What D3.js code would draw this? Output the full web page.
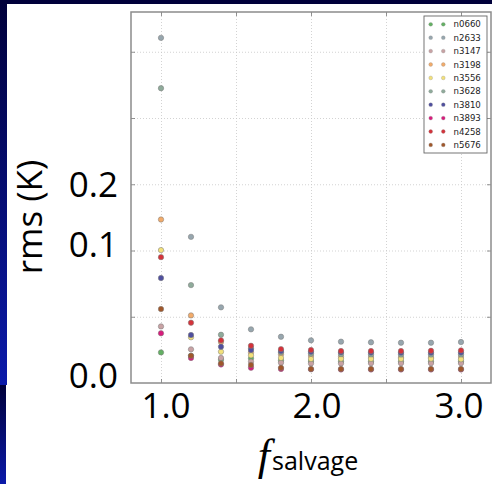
<!DOCTYPE html>
<html>
<head>
<meta charset="utf-8">
<script src="https://cdn.jsdelivr.net/npm/d3@7"></script>
<style>
  html, body { margin: 0; padding: 0; background: #fff; }
  svg { display: block; }
</style>
</head>
<body>
<svg id="chart" width="492" height="484"></svg>
<script>
// f_salvage values sampled for every field
const fSalvage = [1.0, 1.2, 1.4, 1.6, 1.8, 2.0, 2.2, 2.4, 2.6, 2.8, 3.0];

// Series names in legend order, with their marker colours
const seriesNames  = ["n0660", "n2633", "n3147", "n3198", "n3556", "n3628", "n3810", "n3893", "n4258", "n5676"];
const seriesColors = ["#63b063", "#97a6ae", "#c8a2a4", "#f2ab6a", "#f2e07a", "#8fab9b", "#4f4f9f", "#d81b7c", "#d5323a", "#a0572a"];

// rms (K) per series, one value per f_salvage
const n0660 = [0.0231, 0.0205, 0.0175, 0.0186, 0.0170, 0.0165, 0.0163, 0.0162, 0.0162, 0.0162, 0.0162];
const n2633 = [0.2605, 0.1103, 0.0571, 0.0405, 0.0349, 0.0322, 0.0312, 0.0307, 0.0304, 0.0304, 0.0309];
const n3147 = [0.0427, 0.0254, 0.0189, 0.0161, 0.0153, 0.0148, 0.0148, 0.0150, 0.0150, 0.0150, 0.0150];
const n3198 = [0.1234, 0.0510, 0.0310, 0.0230, 0.0216, 0.0204, 0.0198, 0.0196, 0.0195, 0.0195, 0.0196];
const n3556 = [0.1003, 0.0345, 0.0236, 0.0209, 0.0189, 0.0181, 0.0183, 0.0182, 0.0182, 0.0183, 0.0179];
const n3628 = [0.2225, 0.0739, 0.0364, 0.0262, 0.0232, 0.0222, 0.0218, 0.0216, 0.0215, 0.0215, 0.0216];
const n3810 = [0.0792, 0.0362, 0.0274, 0.0249, 0.0241, 0.0236, 0.0232, 0.0230, 0.0229, 0.0229, 0.0230];
const n3893 = [0.0375, 0.0189, 0.0140, 0.0115, 0.0106, 0.0103, 0.0102, 0.0102, 0.0102, 0.0102, 0.0102];
const n4258 = [0.0950, 0.0455, 0.0322, 0.0281, 0.0256, 0.0249, 0.0241, 0.0241, 0.0241, 0.0243, 0.0246];
const n5676 = [0.0558, 0.0206, 0.0148, 0.0136, 0.0115, 0.0106, 0.0106, 0.0106, 0.0106, 0.0106, 0.0106];

const seriesValues = [n0660, n2633, n3147, n3198, n3556, n3628, n3810, n3893, n4258, n5676];

// Axis grid values and the large tick labels
const xGridValues = [1.0, 1.5, 2.0, 2.5, 3.0];
const yGridValues = [0.05, 0.10, 0.15, 0.20, 0.25];
const xTickLabels = ["1.0", "2.0", "3.0"];
const yTickLabels = ["0.0", "0.1", "0.2"];

const svg = d3.select("#chart");
const W = 492, H = 484;

// Slide decoration: dark band along the top and a blue band down the left
const defs = svg.append("defs");
const grad = defs.append("linearGradient").attr("id", "sideband")
  .attr("x1", 0).attr("y1", 0).attr("x2", 0).attr("y2", 1);
grad.append("stop").attr("offset", "0%").attr("stop-color", "#00003a");
grad.append("stop").attr("offset", "100%").attr("stop-color", "#0b1aaa");
svg.append("rect").attr("x", 0).attr("y", 0).attr("width", 7).attr("height", 385).attr("fill", "url(#sideband)");
svg.append("rect").attr("x", 0).attr("y", 385).attr("width", 6).attr("height", H - 385).attr("fill", "url(#sideband)");
svg.append("rect").attr("x", 0).attr("y", 0).attr("width", W).attr("height", 4).attr("fill", "#00003a");

// Plot area
const plot = { left: 131, right: 491, top: 12, bottom: 383 };
const x = d3.scaleLinear().domain([0.8, 3.2]).range([plot.left, plot.right]);
const y = d3.scaleLinear().domain([0, 0.28]).range([plot.bottom, plot.top]);
const pw = plot.right - plot.left, ph = plot.bottom - plot.top;

svg.append("rect").attr("x", plot.left).attr("y", plot.top).attr("width", pw).attr("height", ph).attr("fill", "#fff");

// Dotted grid
const gridX = svg.append("g").attr("transform", `translate(0,${plot.bottom})`)
  .call(d3.axisBottom(x).tickValues(xGridValues).tickSize(-ph).tickFormat(""));
const gridY = svg.append("g").attr("transform", `translate(${plot.left},0)`)
  .call(d3.axisLeft(y).tickValues(yGridValues).tickSize(-pw).tickFormat(""));
[gridX, gridY].forEach(g => {
  g.select(".domain").remove();
  g.selectAll(".tick line").attr("stroke", "#c8c8c8").attr("stroke-width", 0.8).attr("stroke-dasharray", "1,2");
});

// Inward tick marks on all four sides
const tickLen = 4;
const axes = [
  svg.append("g").attr("transform", `translate(0,${plot.bottom})`).call(d3.axisTop(x).tickValues(xGridValues).tickSize(tickLen).tickFormat("")),
  svg.append("g").attr("transform", `translate(0,${plot.top})`).call(d3.axisBottom(x).tickValues(xGridValues).tickSize(tickLen).tickFormat("")),
  svg.append("g").attr("transform", `translate(${plot.left},0)`).call(d3.axisRight(y).tickValues(yGridValues).tickSize(tickLen).tickFormat("")),
  svg.append("g").attr("transform", `translate(${plot.right},0)`).call(d3.axisLeft(y).tickValues(yGridValues).tickSize(tickLen).tickFormat(""))
];
axes.forEach(g => {
  g.select(".domain").remove();
  g.selectAll(".tick line").attr("stroke", "#777").attr("stroke-width", 0.8);
});

// Points, drawn series by series so later series sit on top
const pts = svg.append("g");
seriesValues.forEach((vals, i) => {
  pts.append("g").selectAll("circle")
    .data(vals.map((v, j) => ({ f: fSalvage[j], v })))
    .join("circle")
    .attr("cx", d => x(d.f))
    .attr("cy", d => y(d.v))
    .attr("r", 2.7)
    .attr("fill", seriesColors[i])
    .attr("stroke", "#7a7a7a")
    .attr("stroke-width", 0.5);
});

// Frame
svg.append("rect").attr("x", plot.left).attr("y", plot.top).attr("width", pw).attr("height", ph)
  .attr("fill", "none").attr("stroke", "#8c8c8c").attr("stroke-width", 1.5);

// Legend
const leg = { x: 424, y: 16, w: 63, h: 137, row: 13.4 };
const lg = svg.append("g");
lg.append("rect").attr("x", leg.x).attr("y", leg.y).attr("width", leg.w).attr("height", leg.h)
  .attr("fill", "#fff").attr("stroke", "#666").attr("stroke-width", 0.9);
seriesNames.forEach((name, i) => {
  const cy = leg.y + 8.3 + i * leg.row;
  [6.7, 19.3].forEach(dx => {
    lg.append("circle").attr("cx", leg.x + dx).attr("cy", cy).attr("r", 1.9)
      .attr("fill", seriesColors[i]).attr("stroke", "#8a8a8a").attr("stroke-width", 0.3);
  });
  lg.append("text").attr("x", leg.x + 29.5).attr("y", cy).attr("dy", "0.35em")
    .attr("font-family", "DejaVu Sans").attr("font-size", 8.6).attr("fill", "#222")
    .text(name);
});

// Large slide-style tick labels
const labelFont = "'Open Sans', sans-serif";
const yLabelPos = d3.scaleLinear().domain([0, 0.1, 0.2]).range([388, 257, 197]);
const xLabelPos = d3.scaleLinear().domain([1, 2, 3]).range([166, 317, 459]);

svg.append("g").selectAll("text").data(yTickLabels).join("text")
  .attr("x", 118).attr("y", d => yLabelPos(+d))
  .attr("text-anchor", "end")
  .attr("font-family", labelFont).attr("font-size", 35).attr("fill", "#000")
  .text(d => d);

svg.append("g").selectAll("text").data(xTickLabels).join("text")
  .attr("x", d => xLabelPos(+d)).attr("y", 418)
  .attr("text-anchor", "middle")
  .attr("font-family", labelFont).attr("font-size", 35).attr("fill", "#000")
  .text(d => d);

// Axis titles
svg.append("text")
  .attr("transform", "translate(42,217) rotate(-90)")
  .attr("text-anchor", "middle")
  .attr("font-family", labelFont).attr("font-size", 35).attr("fill", "#000")
  .text("rms (K)");

const xt = svg.append("text").attr("x", 308).attr("y", 470).attr("text-anchor", "middle").attr("fill", "#000");
xt.append("tspan").attr("font-family", "'Liberation Serif', serif").attr("font-style", "italic").attr("font-size", 44).text("f");
xt.append("tspan").attr("font-family", labelFont).attr("font-size", 25).attr("dx", 2).text("salvage");
</script>
</body>
</html>
